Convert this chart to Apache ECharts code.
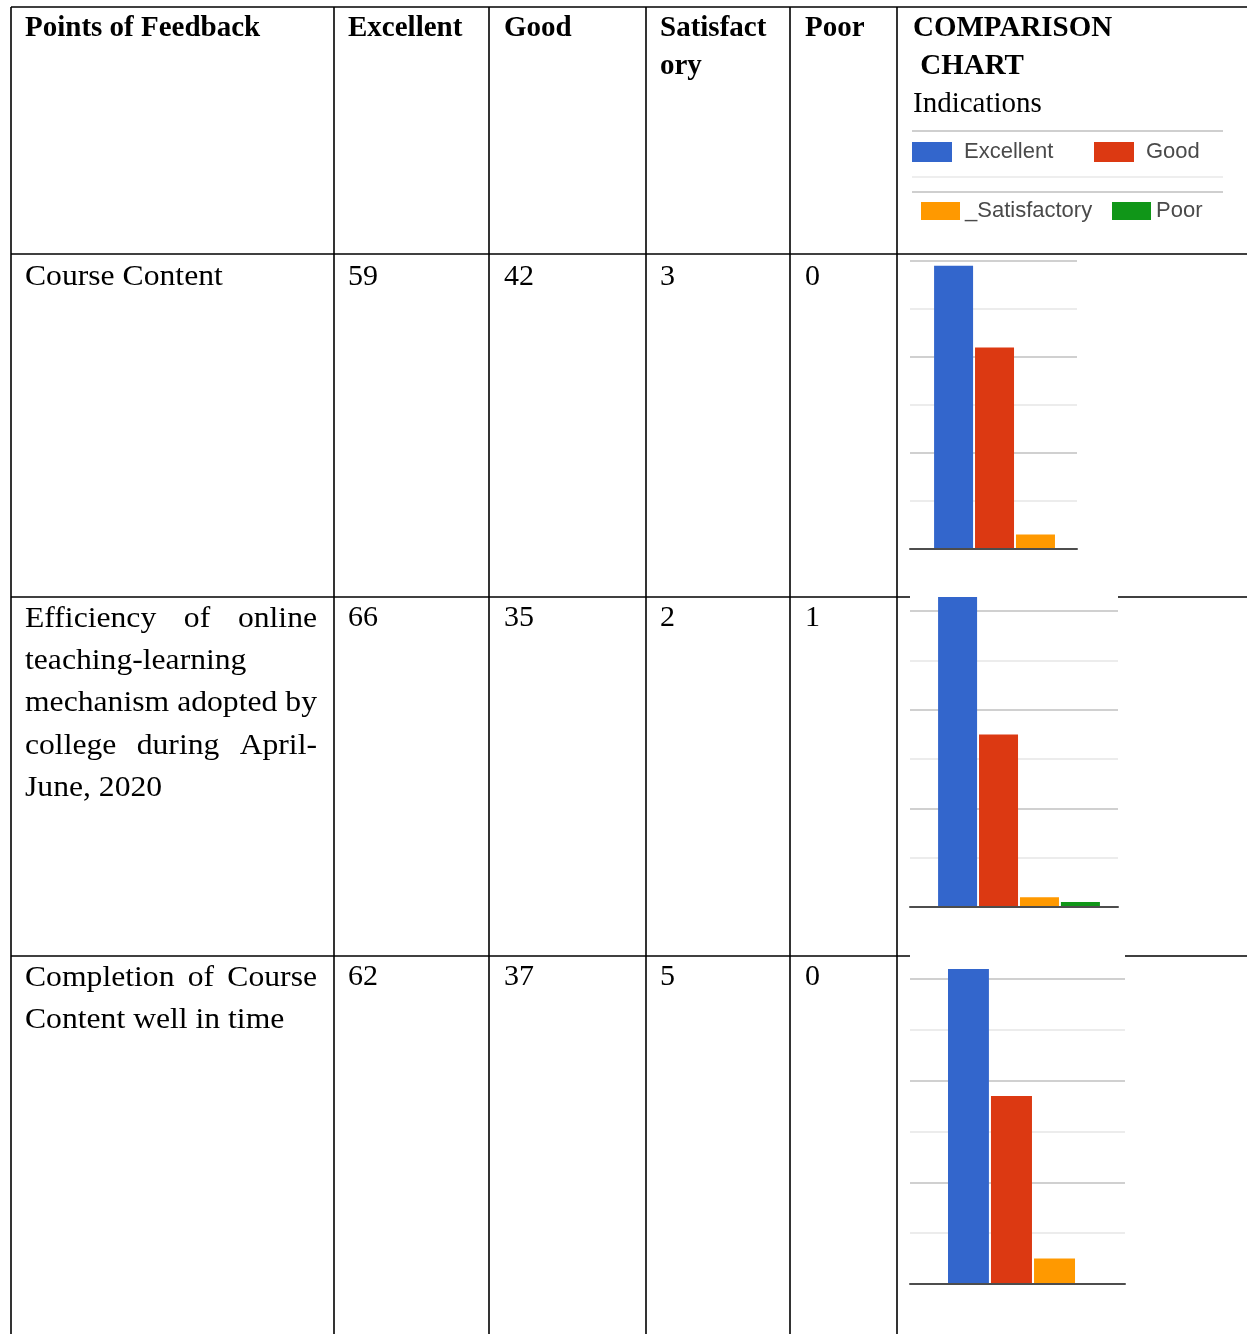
<!DOCTYPE html>
<html><head><meta charset="utf-8">
<script src="https://cdn.jsdelivr.net/npm/echarts@6/dist/echarts.min.js"></script>
<style>html,body{margin:0;padding:0;background:#fff}#c{width:1247px;height:1334px}</style>
</head><body><div id="c"></div>
<script>
// ---------- data ----------
const ratingLevels = ['Excellent', 'Good', 'Satisfactory', 'Poor'];
const headerLines = [['Points of Feedback'], ['Excellent'], ['Good'], ['Satisfact', 'ory'], ['Poor'], ['COMPARISON', ' CHART']];
const chartSubtitle = 'Indications';
const feedbackPoints = [
  'Course Content',
  'Efficiency of online teaching-learning mechanism adopted by college during April-June, 2020',
  'Completion of Course Content well in time'
];
const feedbackLines = [
  ['Course Content'],
  ['Efficiency of online', 'teaching-learning', 'mechanism adopted by', 'college during April-', 'June, 2020'],
  ['Completion of Course', 'Content well in time']
];
const excellentCounts = [59, 66, 62];
const goodCounts = [42, 35, 37];
const satisfactoryCounts = [3, 2, 5];
const poorCounts = [0, 1, 0];
const tickInterval = 10;

// ---------- layout / style ----------
const levelColors = ['#3366cc', '#dc3912', '#ff9900', '#109618'];
const colX = [11, 334, 489, 646, 790, 897];
const textX = [25, 348, 504, 660, 805, 913];
const rowTop = [7, 254, 597, 956];
const pageW = 1247, pageH = 1334;
const serif = '"Liberation Serif","Times New Roman",serif';
const bodyFont = '30px ' + serif;
const boldFont = 'bold 29px ' + serif;
const bodyScaleX = 1.055;
const rowLineY = [[277.5], [619, 661.25, 703.5, 745.75, 788], [978, 1020]];
const numY = [277.5, 618, 977];
const lineH = 38;
const headY = 28.5;

const chartsLayout = [
  { frame: { left: 910, width: 167, top: 261, height: 288 }, bars: { left: 934, width: 162 }, unitPx: 4.8, barWidth: 39, showMax: true },
  { frame: { left: 910, width: 208, top: 597, height: 310 }, bars: { left: 938, width: 162 }, unitPx: 4.93, barWidth: 39, showMax: false },
  { frame: { left: 910, width: 215, top: 956, height: 328 }, bars: { left: 948, width: 170 }, unitPx: 5.08, barWidth: 41, showMax: false }
];

// ---------- helpers ----------
const ctx = document.createElement('canvas').getContext('2d');
function measure(text, font) { ctx.font = font; return ctx.measureText(text).width; }
function textEl(text, x, y, font, sx) {
  return { type: 'text', x: x, y: y, scaleX: sx || 1, silent: true,
    style: { text: text, font: font, fill: '#000', align: 'left', verticalAlign: 'middle',
             textAlign: 'left', textVerticalAlign: 'middle' } };
}
function lineEl(x1, y1, x2, y2, color, w) {
  return { type: 'line', silent: true, shape: { x1, y1, x2, y2 }, style: { stroke: color, lineWidth: w } };
}

const els = [];
// table grid lines
const black = '#000', lw = 1.6;
els.push(lineEl(colX[0], rowTop[0], pageW, rowTop[0], black, lw));
els.push(lineEl(colX[0], rowTop[1], pageW, rowTop[1], black, lw));
els.push(lineEl(colX[0], rowTop[2], 910, rowTop[2], black, lw));
els.push(lineEl(1118, rowTop[2], pageW, rowTop[2], black, lw));
els.push(lineEl(colX[0], rowTop[3], 910, rowTop[3], black, lw));
els.push(lineEl(1125, rowTop[3], pageW, rowTop[3], black, lw));
colX.forEach(x => els.push(lineEl(x, rowTop[0], x, pageH, black, lw)));

// header
headerLines.forEach((lines, ci) => {
  lines.forEach((t, li) => els.push(textEl(t, textX[ci], headY + li * lineH, boldFont)));
});
els.push(textEl(chartSubtitle, textX[5], headY + 2 * lineH, '29px ' + serif));

// legend separator lines
els.push(lineEl(912, 131, 1223, 131, '#cfcfcf', 2));
els.push(lineEl(912, 177, 1223, 177, '#eeeeee', 2));
els.push(lineEl(912, 192, 1223, 192, '#cfcfcf', 2));

// first column, justified
const colLeft = 25, colRight = 317;
feedbackLines.forEach((lines, ri) => {
  lines.forEach((line, li) => {
    const y = rowLineY[ri][li];
    const words = line.split(' ');
    const isLast = li === lines.length - 1;
    if (isLast || words.length < 2) {
      els.push(textEl(line, colLeft, y, bodyFont, bodyScaleX));
    } else {
      const widths = words.map(w => measure(w, bodyFont) * bodyScaleX);
      const total = widths.reduce((a, b) => a + b, 0);
      const gap = (colRight - colLeft - total) / (words.length - 1);
      let x = colLeft;
      words.forEach((w, wi) => { els.push(textEl(w, x, y, bodyFont, bodyScaleX)); x += widths[wi] + gap; });
    }
  });
});
// numbers
const countCols = [excellentCounts, goodCounts, satisfactoryCounts, poorCounts];
feedbackPoints.forEach((p, ri) => {
  countCols.forEach((arr, ci) => els.push(textEl(String(arr[ri]), textX[ci + 1], numY[ri], bodyFont)));
});

// ---------- charts ----------
const grids = [], xAxes = [], yAxes = [], series = [];
chartsLayout.forEach((L, i) => {
  const max = L.frame.height / L.unitPx;
  grids.push({ left: L.frame.left, top: L.frame.top, width: L.frame.width, height: L.frame.height, containLabel: false });
  grids.push({ left: L.bars.left, top: L.frame.top, width: L.bars.width, height: L.frame.height, containLabel: false });
  xAxes.push({ gridIndex: 2 * i, type: 'category', data: [''], z: 5,
    axisLine: { show: true, lineStyle: { color: '#4d4d4d', width: 2 } }, axisTick: { show: false }, axisLabel: { show: false } });
  xAxes.push({ gridIndex: 2 * i + 1, type: 'category', data: [feedbackPoints[i]], show: false });
  yAxes.push({ gridIndex: 2 * i, type: 'value', min: 0, max: max, interval: tickInterval,
    axisLine: { show: false }, axisTick: { show: false }, axisLabel: { show: false },
    splitLine: { show: true, showMaxLine: L.showMax, lineStyle: { color: ['#d0d0d0', '#ececec'], width: 2 } } });
  yAxes.push({ gridIndex: 2 * i + 1, type: 'value', min: 0, max: max, show: false });
  countCols.forEach((arr, si) => {
    series.push({ type: 'bar', name: ratingLevels[si], xAxisIndex: 2 * i + 1, yAxisIndex: 2 * i + 1,
      data: [arr[i]], barWidth: L.barWidth, barGap: '5%', clip: true,
      itemStyle: { color: levelColors[si] }, emphasis: { disabled: true } });
  });
});

const legendFontSize = 22;
const legendFamily = '"Liberation Sans",Arial,sans-serif';
const legendText = { fontFamily: legendFamily, fontSize: legendFontSize, color: '#4a4a4a' };
const lf = legendFontSize + 'px ' + legendFamily;
const satLabel = '_' + ratingLevels[2];
const gap1 = 1094 - (912 + 40 + 5 + 7 + measure(ratingLevels[0], lf));
const gap2 = 1112 - (921 + 39 + 5 + measure(satLabel, lf));
const option = {
  animation: false,
  backgroundColor: '#fff',
  color: levelColors,
  legend: [
    { data: ratingLevels.slice(0, 2), left: 912, top: 141, padding: 0, itemWidth: 40, itemHeight: 20, itemGap: gap1,
      icon: 'rect', selectedMode: false, textStyle: Object.assign({ padding: [0, 0, 0, 7] }, legendText) },
    { data: ratingLevels.slice(2, 4), left: 921, top: 200, padding: 0, itemWidth: 39, itemHeight: 18, itemGap: gap2,
      icon: 'rect', selectedMode: false, formatter: n => (n === ratingLevels[2] ? satLabel : n),
      textStyle: Object.assign({ padding: 0 }, legendText) }
  ],
  grid: grids, xAxis: xAxes, yAxis: yAxes, series: series,
  graphic: { elements: els }
};
const chart = echarts.init(document.getElementById('c'), null, { renderer: 'canvas' });
chart.setOption(option);
</script></body></html>
